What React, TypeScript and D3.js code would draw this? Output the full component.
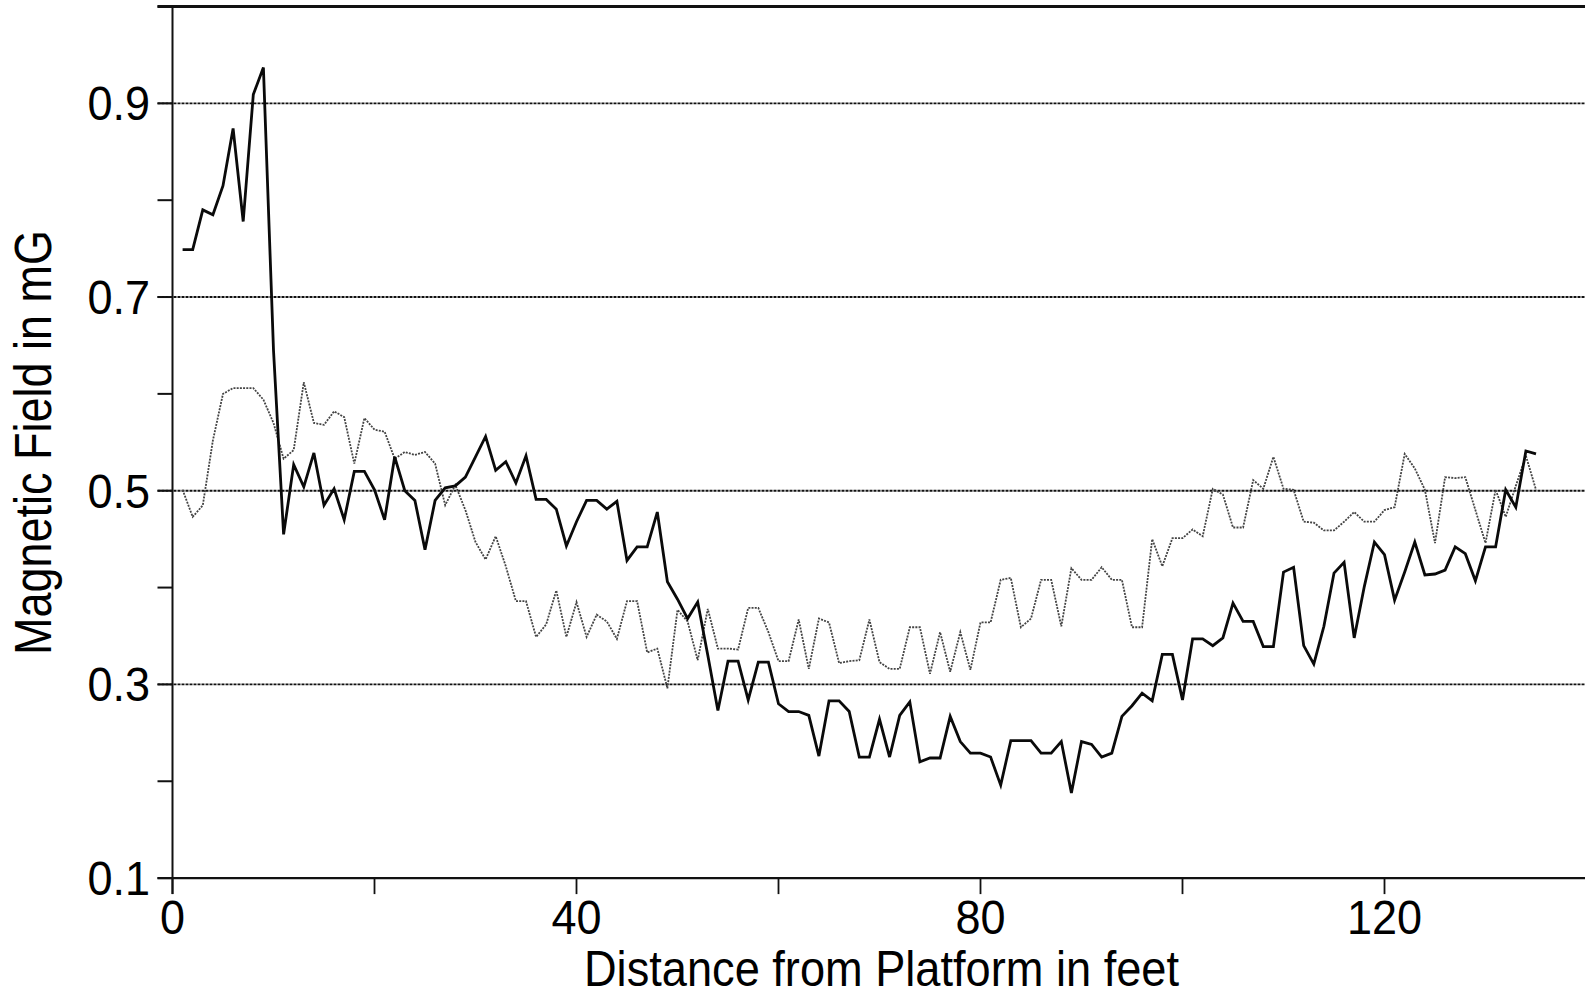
import React from "react";
import * as d3 from "d3";

// Distance from platform (feet) for each reading
const distance: number[] = Array.from({ length: 135 }, (_, i) => i + 1);

// Solid black series (mG)
const solidSeries: number[] = [
  0.749, 0.749, 0.790, 0.785, 0.815, 0.874, 0.778, 0.909, 0.937, 0.645,
  0.455, 0.527, 0.504, 0.539, 0.485, 0.502, 0.470, 0.520, 0.520, 0.501,
  0.470, 0.535, 0.500, 0.490, 0.439, 0.490, 0.503, 0.505, 0.514, 0.535,
  0.556, 0.521, 0.530, 0.508, 0.536, 0.491, 0.491, 0.481, 0.443, 0.468,
  0.490, 0.490, 0.481, 0.489, 0.428, 0.442, 0.442, 0.478, 0.406, 0.388,
  0.368, 0.385, 0.330, 0.273, 0.324, 0.324, 0.284, 0.323, 0.323, 0.280,
  0.272, 0.272, 0.268, 0.226, 0.283, 0.283, 0.272, 0.225, 0.225, 0.264,
  0.225, 0.268, 0.282, 0.220, 0.224, 0.224, 0.267, 0.241, 0.229, 0.229,
  0.225, 0.196, 0.242, 0.242, 0.242, 0.229, 0.229, 0.241, 0.188, 0.241,
  0.238, 0.225, 0.229, 0.267, 0.278, 0.291, 0.283, 0.331, 0.331, 0.284,
  0.347, 0.347, 0.340, 0.348, 0.384, 0.365, 0.365, 0.339, 0.339, 0.416,
  0.421, 0.340, 0.321, 0.360, 0.415, 0.426, 0.348, 0.401, 0.447, 0.434,
  0.387, 0.416, 0.447, 0.413, 0.414, 0.418, 0.442, 0.435, 0.407, 0.442,
  0.442, 0.501, 0.483, 0.541, 0.538,
];

// Dotted grey series (mG)
const dottedSeries: number[] = [
  0.501, 0.473, 0.485, 0.552, 0.600, 0.606, 0.606, 0.606, 0.594, 0.570,
  0.533, 0.542, 0.612, 0.570, 0.568, 0.582, 0.576, 0.528, 0.575, 0.563,
  0.561, 0.533, 0.540, 0.537, 0.540, 0.528, 0.485, 0.506, 0.480, 0.447,
  0.429, 0.453, 0.422, 0.386, 0.386, 0.349, 0.362, 0.397, 0.349, 0.385,
  0.349, 0.372, 0.365, 0.347, 0.386, 0.386, 0.333, 0.337, 0.296, 0.377,
  0.365, 0.325, 0.378, 0.337, 0.337, 0.336, 0.379, 0.379, 0.354, 0.324,
  0.324, 0.367, 0.316, 0.368, 0.364, 0.322, 0.324, 0.325, 0.367, 0.323,
  0.316, 0.316, 0.359, 0.359, 0.311, 0.354, 0.313, 0.354, 0.315, 0.364,
  0.364, 0.408, 0.410, 0.359, 0.368, 0.408, 0.408, 0.360, 0.420, 0.408,
  0.408, 0.421, 0.408, 0.408, 0.359, 0.359, 0.450, 0.422, 0.451, 0.451,
  0.460, 0.453, 0.502, 0.496, 0.462, 0.462, 0.511, 0.502, 0.535, 0.502,
  0.501, 0.468, 0.467, 0.459, 0.459, 0.468, 0.478, 0.468, 0.468, 0.480,
  0.483, 0.538, 0.523, 0.501, 0.446, 0.514, 0.513, 0.514, 0.480, 0.446,
  0.501, 0.473, 0.505, 0.536, 0.501,
];

const xTicks: number[] = [0, 20, 40, 60, 80, 100, 120, 140];
const xTickLabels: number[] = [0, 40, 80, 120];
const yTicks: number[] = [0.1, 0.2, 0.3, 0.4, 0.5, 0.6, 0.7, 0.8, 0.9, 1.0];
const yTickLabels: number[] = [0.1, 0.3, 0.5, 0.7, 0.9];
const gridValues: number[] = [0.3, 0.5, 0.7, 0.9];

const W = 1585;
const H = 996;
const FONT = "'Liberation Sans', Arial, Helvetica, sans-serif";
const EM_W = 45; // horizontal em (font looks condensed)

function charWidthEm(s: string): number {
  const t: Record<string, number> = { ".": 0.278 };
  let w = 0;
  for (const c of s) w += t[c] ?? 0.556;
  return w;
}

export default function App() {
  const x = d3.scaleLinear().domain([0, 140]).range([172.5, 1586.5]);
  const y = d3.scaleLinear().domain([0.1, 1.0]).range([878.1, 6.5]);

  const solidPts = distance.map((d, i) => [d, solidSeries[i]] as [number, number]);
  const dottedPts = distance.map((d, i) => [d, dottedSeries[i]] as [number, number]);
  const line = d3
    .line<[number, number]>()
    .x((d) => x(d[0]))
    .y((d) => y(d[1]));

  const left = x(0);
  const bottom = y(0.1);
  const top = y(1.0);

  return (
    <svg
      width={W}
      height={H}
      viewBox={`0 0 ${W} ${H}`}
      style={{ position: "absolute", left: 0, top: 0, background: "#fff" }}
    >
      <rect x={0} y={0} width={W} height={H} fill="#fff" />
      {gridValues.map((v) => (
        <line
          key={"g" + v}
          x1={left - 15}
          x2={W}
          y1={y(v)}
          y2={y(v)}
          stroke="#111"
          strokeWidth={1.9}
          strokeDasharray="3 1"
        />
      ))}
      {yTicks.map((v) => (
        <line key={"yt" + v} x1={left - 15} x2={left} y1={y(v)} y2={y(v)} stroke="#111" strokeWidth={2} />
      ))}
      <line x1={left - 15} x2={W} y1={top} y2={top} stroke="#111" strokeWidth={3} />
      {xTicks.map((v) => (
        <line key={"xt" + v} x1={x(v)} x2={x(v)} y1={bottom} y2={bottom + 16} stroke="#111" strokeWidth={1.8} />
      ))}
      <line x1={left} x2={left} y1={top} y2={bottom + 16} stroke="#111" strokeWidth={2} />
      <line x1={left - 15} x2={W} y1={bottom} y2={bottom} stroke="#111" strokeWidth={2.2} />

      <path d={line(dottedPts) ?? ""} fill="none" stroke="#444" strokeWidth={1.8} strokeDasharray="2 1.2" />
      <path d={line(solidPts) ?? ""} fill="none" stroke="#0a0a0a" strokeWidth={2.8} strokeLinejoin="miter" />

      {yTickLabels.map((v) => {
        const s = v.toFixed(1);
        return (
          <text
            key={"yl" + v}
            x={150}
            y={y(v) + 17}
            textAnchor="end"
            fontFamily={FONT}
            fontSize={48}
            textLength={charWidthEm(s) * EM_W}
            lengthAdjust="spacingAndGlyphs"
            fill="#000"
          >
            {s}
          </text>
        );
      })}
      {xTickLabels.map((v) => {
        const s = String(v);
        return (
          <text
            key={"xl" + v}
            x={x(v) - (charWidthEm(s) * EM_W) / 2}
            y={934}
            fontFamily={FONT}
            fontSize={48}
            textLength={charWidthEm(s) * EM_W}
            lengthAdjust="spacingAndGlyphs"
            fill="#000"
          >
            {s}
          </text>
        );
      })}
      <text
        x={584}
        y={986}
        fontFamily={FONT}
        fontSize={50}
        textLength={595}
        lengthAdjust="spacingAndGlyphs"
        fill="#000"
      >
        Distance from Platform in feet
      </text>
      <text
        transform={`translate(51, ${443 + 212}) rotate(-90)`}
        x={0}
        y={0}
        fontFamily={FONT}
        fontSize={51}
        textLength={425}
        lengthAdjust="spacingAndGlyphs"
        fill="#000"
      >
        Magnetic Field in mG
      </text>
    </svg>
  );
}
